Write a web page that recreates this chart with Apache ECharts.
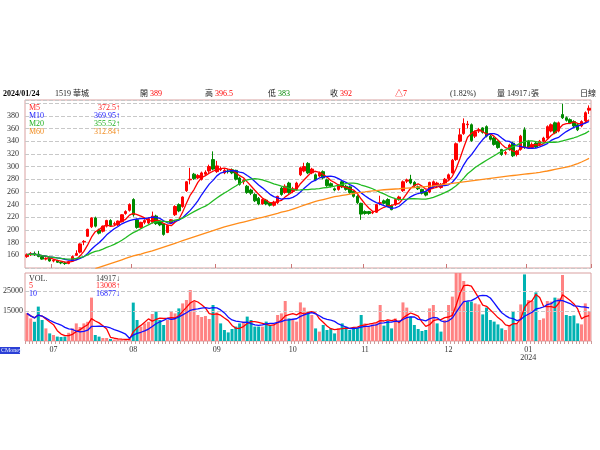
<!DOCTYPE html>
<html><head><meta charset="utf-8">
<script src="https://cdn.jsdelivr.net/npm/echarts/dist/echarts.min.js"></script>
<style>html,body{margin:0;padding:0;background:#fff}#c{width:600px;height:450px}</style>
</head><body><div id="c"></div>
<script>
// Trading days per month (categories)
const tradingDays = [
  ['2023','06',[20,21,26,27,28,29,30]],
  ['2023','07',[3,4,5,6,7,10,11,12,13,14,17,18,19,20,21,24,25,26,27,28,31]],
  ['2023','08',[1,2,4,7,8,9,10,11,14,15,16,17,18,21,22,23,24,25,28,29,30,31]],
  ['2023','09',[1,4,5,6,7,8,11,12,13,14,15,18,19,20,21,22,25,26,27,28]],
  ['2023','10',[2,3,4,6,11,12,13,16,17,18,19,20,23,24,25,26,27,30,31]],
  ['2023','11',[1,2,3,6,7,8,9,10,13,14,15,16,17,20,21,22,23,24,27,28,29,30]],
  ['2023','12',[1,4,5,6,7,8,11,12,13,14,15,18,19,20,21,22,25,26,27,28,29]],
  ['2024','01',[2,3,4,5,8,9,10,11,12,15,16,17,18,19,22,23,24]]
];
const opens = [158,161,163,162,158,154,155,151,152,149,148,147,151,160,165,181,190,205,219,200,
198,206,215,209,208,213,226,231,248,216,204,212,211,212,222,213,210,196,211,224,
240,237,262,279,288,282,280,288,293,311,292,295,290,293,295,294,282,276,269,263,
256,250,241,247,243,239,243,266,259,274,261,264,287,293,305,290,287,285,292,279,
273,265,264,276,269,268,261,253,242,229,229,227,228,242,246,248,238,240,248,262,
277,280,275,268,264,260,260,268,270,267,274,281,290,311,340,352,366,366,348,356,
361,363,348,345,340,327,321,327,337,319,327,358,340,330,337,335,340,345,356,369,
356,382,377,374,371,366,364,372,389];
const closes = [161,163,161,158,154,155,151,152,149,148,147,150,158,163,178,182,201,219,206,195,
206,215,207,210,214,224,229,240,224,204,212,215,218,222,210,208,193,207,216,237,
230,252,276,280,281,286,290,291,300,296,301,296,294,292,290,280,272,278,259,258,
246,241,248,241,239,244,253,256,269,259,265,274,298,300,290,296,279,290,282,270,
269,263,271,268,264,259,253,243,225,226,226,228,240,243,242,237,232,248,252,276,
279,274,270,265,258,255,275,276,274,272,280,287,310,336,350,368,367,341,355,358,
354,348,343,335,330,319,322,334,317,324,348,330,330,335,331,340,345,363,366,353,
369,377,373,369,364,358,371,385,392];
const lows = [156,159,159,157,153,152,150,149,148,146,145,146,150,159,163,176,189,203,204,193,
196,204,206,207,206,212,224,229,221,202,202,209,209,210,208,206,191,195,209,222,
228,235,260,272,279,280,278,285,290,294,290,293,288,289,288,278,270,272,257,255,
244,239,240,239,237,237,241,254,257,257,258,262,285,291,288,288,277,283,280,268,
267,261,262,266,262,257,251,241,216,224,224,225,227,239,240,236,231,238,246,260,
274,272,268,263,256,253,258,266,266,265,272,279,289,309,338,350,360,339,345,353,
352,346,341,333,328,317,318,325,315,316,325,328,328,328,329,333,338,344,354,351,
354,375,371,367,362,356,362,370,383];
const highs = [163,165,166,167,159,157,156,154,153,150,150,151,160,168,179,184,202,220,221,202,
207,216,217,213,215,225,231,242,250,218,213,217,220,229,224,215,211,208,217,239,
242,253,277,298,290,288,292,294,303,324,309,300,297,296,297,295,284,280,271,265,
258,252,250,249,244,246,254,268,272,276,268,276,300,306,307,298,289,292,294,281,
275,267,272,278,271,270,262,255,243,231,230,230,241,254,248,250,240,249,254,278,
281,287,277,270,265,262,276,278,276,274,282,289,312,338,360,376,372,368,357,361,
362,365,350,347,341,328,325,336,339,326,350,362,342,338,339,342,347,365,368,371,
371,399,379,376,373,368,373,387,396.5];
const volumes = [13800,11300,9600,17200,10500,6300,3800,3000,2200,2000,2200,4100,6300,8800,7000,8800,9600,21700,3000,2200,
1500,1500,1000,700,800,700,900,1200,19200,10500,7200,8800,9600,13500,14700,10500,8000,10500,14700,13800,
16300,18800,20500,25500,19700,13000,12000,12500,11000,18000,14300,8800,5500,4300,6000,7200,8800,9700,12200,10500,
7200,7200,7200,9700,8000,8000,13000,13800,20000,11300,10500,9700,19300,16700,14700,13000,6300,4700,8000,5500,
6300,3800,6300,8800,7200,5500,6300,6700,13000,8800,7200,8300,8800,18000,7700,10000,6300,11300,10500,19300,
16700,12200,8000,6000,5000,5500,16300,18000,8800,4700,10500,18000,22200,34000,34000,30000,19700,19700,18800,18300,
13300,16700,10500,9700,8300,6300,5500,8000,15000,8800,18300,33300,20500,20000,24300,10500,11300,20000,19700,21700,
21300,33000,13000,12500,12800,8800,8300,18800,14917];
// 60-day average (earlier part lies below the axis)
const ma60 = [null,null,null,null,null,null,null,null,null,null,null,null,null,null,null,null,null,null,139,141,
143,145,147,149,151,153,155,157,159,160.5,162,164,165.5,167,169,171,173,175,177,179,
181,183,185,187,189,191,193,195,197,199,201,203,205,206.5,208,209.5,211,212.5,214,215.5,
217,218.5,220,221.5,223,224.5,226,228,229.5,231,233,235,237,239,241,243,245,246.5,248,249.5,
251,252.5,253.5,254.5,255.5,256.5,257.5,258.5,259.3,260,260.8,261.5,262.2,262.8,263.4,263.8,264.2,264.6,265,265.5,
266,266.5,267,267.5,268,268.5,269,269.5,270.2,271,271.8,272.6,273.4,274.2,275,275.8,276.6,277.4,278.2,279,
279.8,280.6,281.4,282.2,283,283.8,284.5,285.2,285.9,286.6,287.3,288,288.7,289.4,290.1,291,292,293,294.2,295.4,
296.6,297.8,299,300.5,302.5,304.8,307.2,310,312.8];
const priceTickLabels = [160,180,200,220,240,260,280,300,320,340,360,380];
const volTickLabels = [15000,25000];
const maLegend = [['M5','372.5↑','#ff2020'],['M10','369.95↑','#2020ff'],['M20','355.52↑','#20b020'],['M60','312.84↑','#f08c20']];
const volLegend = [['VOL.','14917↓','#333333'],['5','13008↑','#ff2020'],['10','16877↓','#2020ff']];

const dates = [], monthStart = [];
tradingDays.forEach(([y,m,days]) => days.forEach((d,k) => {
  dates.push(y+'/'+m+'/'+String(d).padStart(2,'0')); monthStart.push(k===0);
}));
function movingAvg(src, n){
  return src.map((_, i) => { const s = Math.max(0, i-n+1); let sum = 0;
    for (let k = s; k <= i; k++) sum += src[k]; return +(sum/(i-s+1)).toFixed(2); });
}
const ohlc = opens.map((o,i) => [o, closes[i], lows[i], highs[i]]);
const volData = volumes.map((v,i) => ({ value: v, itemStyle: { color:
  (i === 0 ? closes[i] >= opens[i] : closes[i] >= closes[i-1]) ? '#ff8282' : '#00b2b2' } }));

const FONT = "'Liberation Serif','Noto Sans CJK TC',serif";
function txt(x, y, s, color, opt) {
  opt = opt || {};
  return { type:'text', x:x, y:y, z:100, silent:true, style:{ text:s, fill:color,
    font:(opt.bold?'bold ':'')+(opt.size||8)+'px '+FONT,
    textAlign:opt.align||'left', align:opt.align||'left',
    textVerticalAlign:'middle', verticalAlign:'middle' } };
}
const graphics = [];
// header
graphics.push(txt(3,94,'2024/01/24','#000',{bold:true}));
graphics.push(txt(55,94,'1519 華城','#222'));
graphics.push(txt(140,94,'開','#222')); graphics.push(txt(150,94,'389','#ff0000'));
graphics.push(txt(205,94,'高','#222')); graphics.push(txt(215,94,'396.5','#ff0000'));
graphics.push(txt(268,94,'低','#222')); graphics.push(txt(278,94,'383','#008800'));
graphics.push(txt(330,94,'收','#222')); graphics.push(txt(340,94,'392','#ff0000'));
graphics.push(txt(395,94,'△7','#ff0000'));
graphics.push(txt(450,94,'(1.82%)','#222'));
graphics.push(txt(497,94,'量 14917↓張','#222'));
graphics.push(txt(580,94,'日線','#222'));
maLegend.forEach((r,k) => { graphics.push(txt(29,107.5+k*8,r[0],r[2])); graphics.push(txt(120,107.5+k*8,r[1],r[2],{align:'right'})); });
volLegend.forEach((r,k) => { graphics.push(txt(29,278.5+k*7.5,r[0],r[2])); graphics.push(txt(120,278.5+k*7.5,r[1],r[2],{align:'right'})); });
graphics.push({ type:'rect', x:0, y:347, z:99, silent:true, shape:{width:20,height:7}, style:{fill:'#2b3fd6'} });
graphics.push(txt(1,350.7,'CMoney','#e8f0ff',{size:6}));

const chart = echarts.init(document.getElementById('c'), null, {renderer:'canvas'});
chart.setOption({
  animation:false,
  backgroundColor:'#ffffff',
  grid:[
    {left:25, right:9, top:100, height:168, show:true, borderColor:'#d9a0a0', borderWidth:1, backgroundColor:'transparent'},
    {left:25, right:9, top:273, height:68, show:true, borderColor:'#d9a0a0', borderWidth:1, backgroundColor:'transparent'}
  ],
  xAxis:[
    {type:'category', gridIndex:0, data:dates, boundaryGap:true,
     axisLine:{show:false}, axisLabel:{show:false},
     axisTick:{show:true, inside:true, length:4, interval:(i)=>monthStart[i] && i>0, lineStyle:{color:'#c77'}},
     splitLine:{show:false}},
    {type:'category', gridIndex:1, data:dates, boundaryGap:true,
     axisLine:{show:false},
     axisTick:{show:true, length:3, interval:0, lineStyle:{color:'#c99'}},
     axisLabel:{interval:(i)=>monthStart[i] && i>0, margin:5, fontSize:8, lineHeight:8, color:'#333', fontFamily:FONT,
       formatter:(v)=>{ const p = v.split('/'); return p[1]==='01' ? p[1]+'\n'+p[0] : p[1]; }},
     splitLine:{show:false}}
  ],
  yAxis:[
    {type:'value', gridIndex:0, min:140, max:405, interval:20, position:'left',
     axisLine:{show:false}, axisTick:{show:false},
     axisLabel:{margin:6, fontSize:8, color:'#333', fontFamily:FONT,
       formatter:(v)=> priceTickLabels.indexOf(v) >= 0 ? String(v) : ''},
     splitLine:{show:true, lineStyle:{color:'#c8c8c8', type:'dashed', width:1}}},
    {type:'value', gridIndex:1, min:0, max:34000, interval:5000, position:'left',
     axisLine:{show:false}, axisTick:{show:false},
     axisLabel:{margin:2, fontSize:8, color:'#333', fontFamily:FONT,
       formatter:(v)=> volTickLabels.indexOf(v) >= 0 ? String(v) : ''},
     splitLine:{show:false}}
  ],
  series:[
    {type:'candlestick', xAxisIndex:0, yAxisIndex:0, data:ohlc, barWidth:3,
     itemStyle:{color:'#ff0000', color0:'#008a00', borderColor:'#ff0000', borderColor0:'#008a00', borderWidth:1}},
    {type:'line', xAxisIndex:0, yAxisIndex:0, data:movingAvg(closes,5), symbol:'none', lineStyle:{color:'#ff0000', width:1.3}, z:5},
    {type:'line', xAxisIndex:0, yAxisIndex:0, data:movingAvg(closes,10), symbol:'none', lineStyle:{color:'#1010ff', width:1.3}, z:5},
    {type:'line', xAxisIndex:0, yAxisIndex:0, data:movingAvg(closes,20), symbol:'none', lineStyle:{color:'#22bb22', width:1.3}, z:5},
    {type:'line', xAxisIndex:0, yAxisIndex:0, data:ma60, symbol:'none', lineStyle:{color:'#ff8c1a', width:1.3}, z:5},
    {type:'bar', xAxisIndex:1, yAxisIndex:1, data:volData, barWidth:3,
     markLine:{silent:true, symbol:'none', label:{show:false},
       lineStyle:{color:'#c8c8c8', type:'dashed', width:1},
       data:volTickLabels.map(v=>({yAxis:v}))}},
    {type:'line', xAxisIndex:1, yAxisIndex:1, data:movingAvg(volumes,5), symbol:'none', lineStyle:{color:'#ff0000', width:1.3}, z:5},
    {type:'line', xAxisIndex:1, yAxisIndex:1, data:movingAvg(volumes,10), symbol:'none', lineStyle:{color:'#1010ff', width:1.3}, z:5}
  ],
  graphic: graphics
});
</script></body></html>
